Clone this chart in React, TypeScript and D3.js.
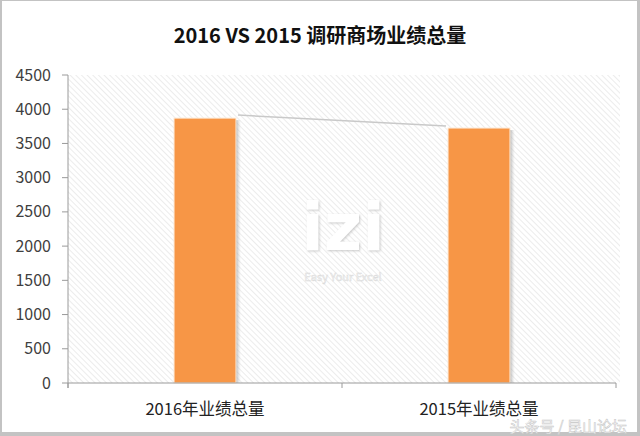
import React from "react";
import * as d3 from "d3";

const title = "2016 VS 2015 调研商场业绩总量";
const categories = ["2016年业绩总量", "2015年业绩总量"];
const values = [3870, 3725];
const yTicks = [0, 500, 1000, 1500, 2000, 2500, 3000, 3500, 4000, 4500];

const W = 640;
const H = 436;
const FONT = "'Noto Sans CJK SC', 'Noto Sans', sans-serif";

export default function App() {
  const left = 68, right = 616, top = 75, bottom = 383;
  const x = d3.scaleBand<string>().domain(categories).range([left, right]).padding(0);
  const y = d3.scaleLinear().domain([0, 4500]).range([bottom, top]);
  const barW = x.bandwidth() * 0.226;
  const bars = categories.map((c, i) => {
    const cx = (x(c) ?? 0) + x.bandwidth() / 2;
    return { c, v: values[i], x0: cx - barW / 2, x1: cx + barW / 2, yt: y(values[i]) };
  });
  return (
    <svg width={W} height={H} style={{ position: "absolute", left: 0, top: 0 }} fontFamily={FONT}>
      <defs>
        <pattern id="hatch" width="4" height="4" patternUnits="userSpaceOnUse" patternTransform="rotate(-45)">
          <rect width="4" height="4" fill="#ffffff" />
          <line x1="0" y1="0" x2="0" y2="4" stroke="#e6e6e6" strokeWidth="1.5" />
        </pattern>
        <linearGradient id="shadow" x1="0" x2="1" y1="0" y2="0">
          <stop offset="0" stopColor="#999" stopOpacity="0.7" />
          <stop offset="1" stopColor="#ccc" stopOpacity="0" />
        </linearGradient>
        <filter id="wm" x="-20%" y="-20%" width="140%" height="140%">
          <feDropShadow dx="1" dy="1" stdDeviation="1.2" floodColor="#bbb" floodOpacity="0.8" />
        </filter>
      </defs>
      <rect x={0} y={0} width={W} height={H} fill="#c3c3c3" />
      <rect x={2} y={1} width={W - 5} height={H - 5} fill="#ffffff" />
      <text x={320} y={43} textAnchor="middle" fontSize={20} fontWeight="bold" fill="#111">{title}</text>
      <rect x={left} y={top} width={right - left + 4} height={bottom - top} fill="url(#hatch)" />
      {/* watermark */}
      <g filter="url(#wm)" fill="#ffffff">
        <text x={343} y={250} textAnchor="middle" fontSize={66} fontWeight="bold" fontFamily="'DejaVu Sans', sans-serif">izi</text>
      </g>
      <text x={343} y={281} textAnchor="middle" fontSize={11} fill="#f4f4f4" stroke="#d8d8d8" strokeWidth={0.4}>Easy Your Excel</text>
      {/* connector line */}
      <line x1={bars[0].x1 + 2} y1={bars[0].yt - 3} x2={bars[1].x0 - 2} y2={bars[1].yt - 2} stroke="#c9c9c9" strokeWidth={1.5} />
      {bars.map((b) => (
        <g key={b.c}>
          <rect x={b.x1} y={b.yt + 2} width={5} height={bottom - b.yt - 2} fill="url(#shadow)" />
          <rect x={b.x0} y={b.yt} width={b.x1 - b.x0} height={bottom - b.yt} fill="#F79646" stroke="#fde9d6" strokeWidth={1} />
        </g>
      ))}
      {/* y axis */}
      <line x1={left} x2={left} y1={top} y2={bottom + 5} stroke="#9a9a9a" />
      {yTicks.map((t) => (
        <g key={t}>
          <line x1={left - 6} x2={left} y1={y(t)} y2={y(t)} stroke="#9a9a9a" />
          <text x={51} y={y(t) + 5.5} textAnchor="end" fontSize={16} fill="#404040">{t}</text>
        </g>
      ))}
      {/* x axis */}
      <line x1={left} x2={right} y1={bottom} y2={bottom} stroke="#9a9a9a" />
      {[left, left + x.bandwidth(), right].map((t, i) => (
        <line key={i} x1={t} x2={t} y1={bottom} y2={bottom + 5} stroke="#9a9a9a" />
      ))}
      {categories.map((c) => (
        <text key={c} x={(x(c) ?? 0) + x.bandwidth() / 2} y={415} textAnchor="middle" fontSize={16.5} fill="#222">{c}</text>
      ))}
      <text x={627} y={432} textAnchor="end" fontSize={15} fill="#ffffff" stroke="#c4c4c4" strokeWidth={0.5}>头条号 / 昆山论坛</text>
    </svg>
  );
}
